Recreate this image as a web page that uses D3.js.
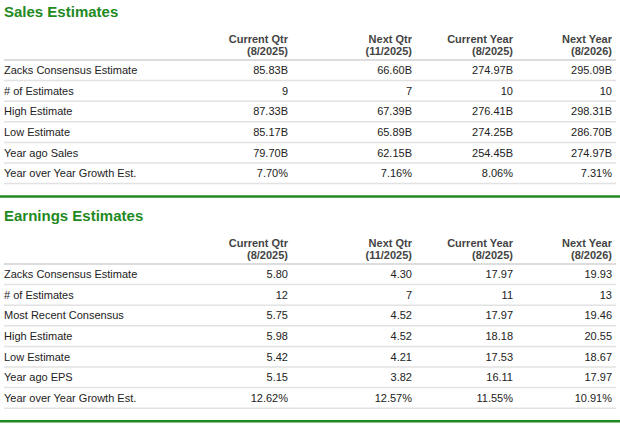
<!DOCTYPE html>
<html>
<head>
<meta charset="utf-8">
<script src="https://cdn.jsdelivr.net/npm/d3@7"></script>
<style>
  body { margin: 0; background: #fff; }
  text { font-family: "Liberation Sans", Arial, sans-serif; }
</style>
</head>
<body>
<svg id="tbl"></svg>
<script>
const columns = ["Current Qtr", "Next Qtr", "Current Year", "Next Year"];
const periods = ["(8/2025)", "(11/2025)", "(8/2025)", "(8/2026)"];

const salesRows = ["Zacks Consensus Estimate", "# of Estimates", "High Estimate", "Low Estimate", "Year ago Sales", "Year over Year Growth Est."];
const salesValues = [
    ["85.83B", "66.60B", "274.97B", "295.09B"],
    ["9", "7", "10", "10"],
    ["87.33B", "67.39B", "276.41B", "298.31B"],
    ["85.17B", "65.89B", "274.25B", "286.70B"],
    ["79.70B", "62.15B", "254.45B", "274.97B"],
    ["7.70%", "7.16%", "8.06%", "7.31%"]
];

const epsRows = ["Zacks Consensus Estimate", "# of Estimates", "Most Recent Consensus", "High Estimate", "Low Estimate", "Year ago EPS", "Year over Year Growth Est."];
const epsValues = [
    ["5.80", "4.30", "17.97", "19.93"],
    ["12", "7", "11", "13"],
    ["5.75", "4.52", "17.97", "19.46"],
    ["5.98", "4.52", "18.18", "20.55"],
    ["5.42", "4.21", "17.53", "18.67"],
    ["5.15", "3.82", "16.11", "17.97"],
    ["12.62%", "12.57%", "11.55%", "10.91%"]
];

const width = 620, height = 425;
const svg = d3.select("#tbl").attr("width", width).attr("height", height);

// right edges of value columns
const x = d3.scaleOrdinal().domain(columns).range([288, 412, 513, 612]);

function drawSection(top, title, rows, values) {
    let g = svg.append("g").attr("transform", "translate(0," + top + ")");

    g.append("text")
        .attr("x", 4).attr("y", 16)
        .attr("fill", "#1f8a1f")
        .attr("font-size", 15).attr("font-weight", "bold")
        .text(title);

    // header
    let head = g.selectAll(".head").data(columns).join("g").attr("class", "head");
    head.append("text")
        .attr("x", d => x(d)).attr("y", 42)
        .attr("text-anchor", "end").attr("font-size", 11).attr("font-weight", "bold").attr("fill", "#444")
        .text(d => d);
    head.append("text")
        .attr("x", d => x(d)).attr("y", 54)
        .attr("text-anchor", "end").attr("font-size", 11).attr("font-weight", "bold").attr("fill", "#444")
        .text((d, i) => periods[i]);

    g.append("line")
        .attr("x1", 4).attr("x2", 616).attr("y1", 59).attr("y2", 59)
        .attr("stroke", "#ddd").attr("stroke-width", 2);

    let y = d3.scaleBand().domain(rows).range([59, 59 + rows.length * 20.6]);

    let row = g.selectAll(".row").data(rows).join("g").attr("class", "row")
        .attr("transform", d => "translate(0," + y(d) + ")");

    row.append("text")
        .attr("x", 4).attr("y", y.bandwidth() / 2 + 4)
        .attr("font-size", 11).attr("fill", "#222")
        .text(d => d);

    row.selectAll(".val").data((d, i) => values[i]).join("text").attr("class", "val")
        .attr("x", (d, i) => x(columns[i])).attr("y", y.bandwidth() / 2 + 4)
        .attr("text-anchor", "end").attr("font-size", 11).attr("fill", "#222")
        .text(d => d);

    row.append("line")
        .attr("x1", 4).attr("x2", 616).attr("y1", y.bandwidth()).attr("y2", y.bandwidth())
        .attr("stroke", "#e2e2e2").attr("stroke-width", 1.5);

    let bottom = 59 + rows.length * 20.6;
    g.append("line")
        .attr("x1", 0).attr("x2", 620).attr("y1", bottom + 13).attr("y2", bottom + 13)
        .attr("stroke", "#1f8a1f").attr("stroke-width", 2.5);
}

drawSection(1, "Sales Estimates", salesRows, salesValues);
drawSection(205, "Earnings Estimates", epsRows, epsValues);
</script>
</body>
</html>
